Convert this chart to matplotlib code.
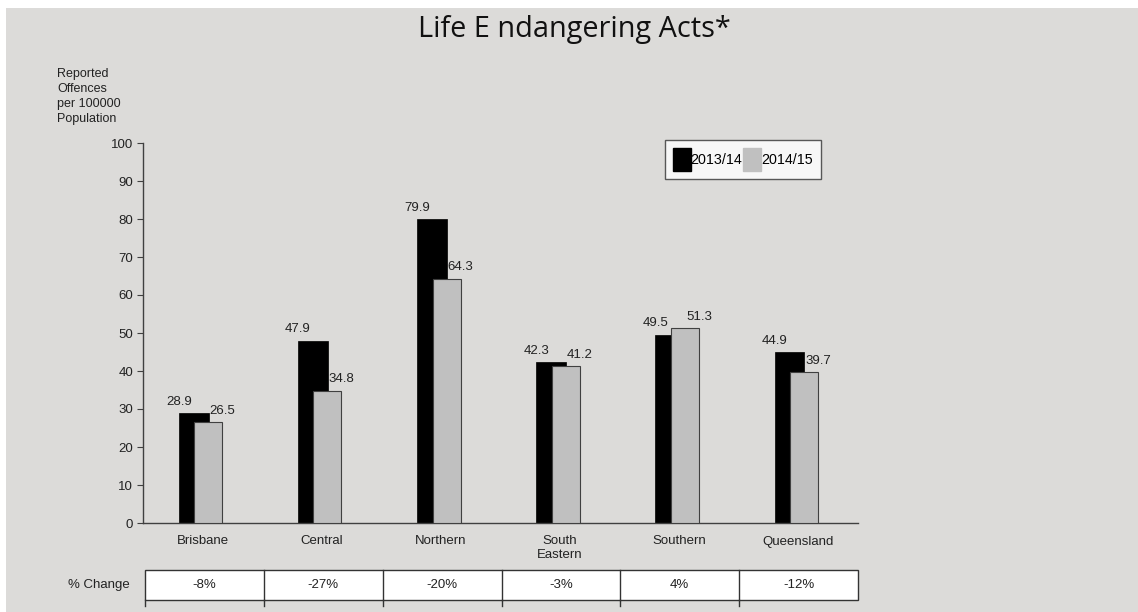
import matplotlib
matplotlib.use("Agg")
import matplotlib.pyplot as plt
from matplotlib.patches import Patch, Rectangle
import numpy as np

categories = ["Brisbane", "Central", "Northern", "South\nEastern", "Southern", "Queensland"]
values_1314 = [28.9, 47.9, 79.9, 42.3, 49.5, 44.9]
values_1415 = [26.5, 34.8, 64.3, 41.2, 51.3, 39.7]
pct_change = ["-8%", "-27%", "-20%", "-3%", "4%", "-12%"]
series_names = ["2013/14", "2014/15"]
yticks = list(range(0, 101, 10))

BG = "#dcdbd9"
plt.rcParams['font.family'] = ['Liberation Sans', 'DejaVu Sans']

W, H = 1138, 612
fig = plt.figure(figsize=(W / 100, H / 100), dpi=100, facecolor='white')

def fx(px):
    return px / W

def fy(py):
    return 1 - py / H

# gray background panel (white margin at top/left)
fig.patches.append(Rectangle((fx(6), 0), 1 - fx(6), fy(8), transform=fig.transFigure,
                             facecolor=BG, edgecolor='none', zorder=-10))

ax_left, ax_right, ax_top, ax_bottom = 143, 858, 143, 523
ax = fig.add_axes([fx(ax_left), fy(ax_bottom), fx(ax_right - ax_left), (ax_bottom - ax_top) / H])
ax.set_facecolor(BG)

x = np.arange(len(categories))
ax.bar(x - 0.2, values_1314, width=0.25, align='edge', color='black', edgecolor='black', linewidth=0.5, zorder=2)
ax.bar(x - 0.07, values_1415, width=0.235, align='edge', color='#c0c0c0', edgecolor='#404040', linewidth=0.8, zorder=3)

for xi, v in zip(x, values_1314):
    ax.annotate(f"{v}", (xi - 0.2, v), xytext=(0, 4), textcoords='offset points',
                ha='center', va='bottom', fontsize=9.5, color='#222222')
for xi, v in zip(x, values_1415):
    ax.annotate(f"{v}", (xi - 0.07 + 0.235, v), xytext=(0, 4), textcoords='offset points',
                ha='center', va='bottom', fontsize=9.5, color='#222222')

ax.set_xlim(-0.5, len(categories) - 0.5)
ax.set_ylim(0, 100)
ax.set_yticks(yticks)
ax.set_yticklabels([str(t) for t in yticks], fontsize=9.5, color='#222222')
ax.set_xticks(x)
ax.set_xticklabels(categories, fontsize=9.5, color='#222222', linespacing=1.15)
ax.tick_params(axis='x', length=0, pad=9)
ax.tick_params(axis='y', length=4, width=0.8, color='#404040', pad=3)
for s in ['top', 'right']:
    ax.spines[s].set_visible(False)
for s in ['left', 'bottom']:
    ax.spines[s].set_color('#404040')
    ax.spines[s].set_linewidth(1)

# legend
handles = [Patch(facecolor='black', edgecolor='black'), Patch(facecolor='#c0c0c0', edgecolor='#c0c0c0')]
leg = fig.legend(handles, series_names, loc='upper left', bbox_to_anchor=(fx(665), fy(140)),
                 ncol=2, fontsize=10.3, frameon=True, fancybox=False, shadow=False,
                 handlelength=1.25, handleheight=2.1, handletextpad=0.0, columnspacing=0.05,
                 borderpad=0.55, borderaxespad=0)
leg.get_frame().set_edgecolor('#333333')
leg.get_frame().set_facecolor('white')
leg.get_frame().set_linewidth(1)

# title
fig.text(0.5045, fy(30), "Life E ndangering Acts*", ha='center', va='center', fontsize=20.8,
         family=['Open Sans', 'DejaVu Sans'], color='#111111')

# y label
fig.text(fx(57), fy(68), "Reported\nOffences\nper 100000\nPopulation", ha='left', va='top',
         fontsize=9, color='#222222', linespacing=1.33)

# % change table
tab_ax = fig.add_axes([fx(145), fy(600), fx(858 - 145), (600 - 570) / H])
tab_ax.set_xlim(-0.5, len(categories) - 0.5)
tab_ax.set_ylim(0, 1)
tab_ax.axis('off')
tab_ax.add_patch(Rectangle((-0.5, 0), len(categories), 1, facecolor='white', edgecolor='#333333', linewidth=1, clip_on=False))
for i, t in enumerate(pct_change):
    if i > 0:
        tab_ax.plot([i - 0.5, i - 0.5], [0, 1], color='#333333', lw=1, clip_on=False)
    tab_ax.plot([i - 0.5, i - 0.5], [0, -0.2], color='#333333', lw=1, clip_on=False)
    tab_ax.text(i, 0.5, t, ha='center', va='center', fontsize=9.5, color='#222222')
fig.text(fx(130), fy(585), "% Change", ha='right', va='center', fontsize=9.5, color='#222222')

fig.savefig("out.png", dpi=100, facecolor='white')
